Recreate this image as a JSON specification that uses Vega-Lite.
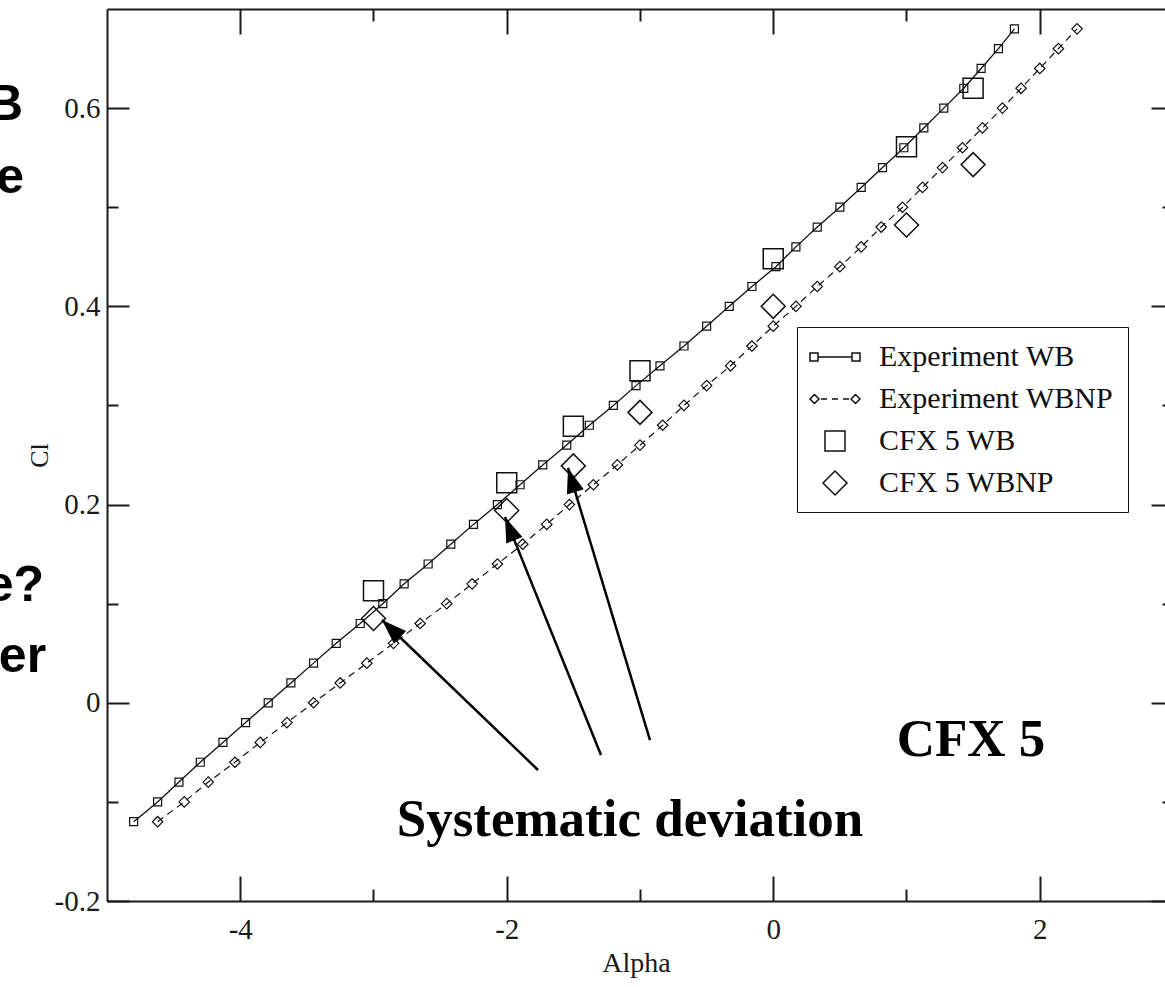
{
  "$schema": "https://vega.github.io/schema/vega-lite/v6.json",
  "width": 1058,
  "height": 892,
  "autosize": {"type": "none"},
  "padding": {"left": 107, "top": 9, "right": 0, "bottom": 86},
  "background": "white",
  "datasets": {
    "exp": [
      {"series": "Experiment WB", "alpha": -4.80, "cl": -0.12},
      {"series": "Experiment WB", "alpha": -4.62, "cl": -0.10},
      {"series": "Experiment WB", "alpha": -4.46, "cl": -0.08},
      {"series": "Experiment WB", "alpha": -4.30, "cl": -0.06},
      {"series": "Experiment WB", "alpha": -4.13, "cl": -0.04},
      {"series": "Experiment WB", "alpha": -3.96, "cl": -0.02},
      {"series": "Experiment WB", "alpha": -3.79, "cl": 0.00},
      {"series": "Experiment WB", "alpha": -3.62, "cl": 0.02},
      {"series": "Experiment WB", "alpha": -3.45, "cl": 0.04},
      {"series": "Experiment WB", "alpha": -3.28, "cl": 0.06},
      {"series": "Experiment WB", "alpha": -3.10, "cl": 0.08},
      {"series": "Experiment WB", "alpha": -2.93, "cl": 0.10},
      {"series": "Experiment WB", "alpha": -2.77, "cl": 0.12},
      {"series": "Experiment WB", "alpha": -2.59, "cl": 0.14},
      {"series": "Experiment WB", "alpha": -2.42, "cl": 0.16},
      {"series": "Experiment WB", "alpha": -2.25, "cl": 0.18},
      {"series": "Experiment WB", "alpha": -2.07, "cl": 0.20},
      {"series": "Experiment WB", "alpha": -1.90, "cl": 0.22},
      {"series": "Experiment WB", "alpha": -1.73, "cl": 0.24},
      {"series": "Experiment WB", "alpha": -1.55, "cl": 0.26},
      {"series": "Experiment WB", "alpha": -1.38, "cl": 0.28},
      {"series": "Experiment WB", "alpha": -1.20, "cl": 0.30},
      {"series": "Experiment WB", "alpha": -1.03, "cl": 0.32},
      {"series": "Experiment WB", "alpha": -0.85, "cl": 0.34},
      {"series": "Experiment WB", "alpha": -0.67, "cl": 0.36},
      {"series": "Experiment WB", "alpha": -0.50, "cl": 0.38},
      {"series": "Experiment WB", "alpha": -0.33, "cl": 0.40},
      {"series": "Experiment WB", "alpha": -0.16, "cl": 0.42},
      {"series": "Experiment WB", "alpha": 0.02, "cl": 0.44},
      {"series": "Experiment WB", "alpha": 0.17, "cl": 0.46},
      {"series": "Experiment WB", "alpha": 0.33, "cl": 0.48},
      {"series": "Experiment WB", "alpha": 0.50, "cl": 0.50},
      {"series": "Experiment WB", "alpha": 0.66, "cl": 0.52},
      {"series": "Experiment WB", "alpha": 0.82, "cl": 0.54},
      {"series": "Experiment WB", "alpha": 0.98, "cl": 0.56},
      {"series": "Experiment WB", "alpha": 1.13, "cl": 0.58},
      {"series": "Experiment WB", "alpha": 1.28, "cl": 0.60},
      {"series": "Experiment WB", "alpha": 1.43, "cl": 0.62},
      {"series": "Experiment WB", "alpha": 1.56, "cl": 0.64},
      {"series": "Experiment WB", "alpha": 1.69, "cl": 0.66},
      {"series": "Experiment WB", "alpha": 1.81, "cl": 0.68},
      {"series": "Experiment WBNP", "alpha": -4.62, "cl": -0.12},
      {"series": "Experiment WBNP", "alpha": -4.42, "cl": -0.10},
      {"series": "Experiment WBNP", "alpha": -4.24, "cl": -0.08},
      {"series": "Experiment WBNP", "alpha": -4.04, "cl": -0.06},
      {"series": "Experiment WBNP", "alpha": -3.85, "cl": -0.04},
      {"series": "Experiment WBNP", "alpha": -3.65, "cl": -0.02},
      {"series": "Experiment WBNP", "alpha": -3.45, "cl": 0.00},
      {"series": "Experiment WBNP", "alpha": -3.25, "cl": 0.02},
      {"series": "Experiment WBNP", "alpha": -3.05, "cl": 0.04},
      {"series": "Experiment WBNP", "alpha": -2.85, "cl": 0.06},
      {"series": "Experiment WBNP", "alpha": -2.65, "cl": 0.08},
      {"series": "Experiment WBNP", "alpha": -2.45, "cl": 0.10},
      {"series": "Experiment WBNP", "alpha": -2.26, "cl": 0.12},
      {"series": "Experiment WBNP", "alpha": -2.07, "cl": 0.14},
      {"series": "Experiment WBNP", "alpha": -1.88, "cl": 0.16},
      {"series": "Experiment WBNP", "alpha": -1.70, "cl": 0.18},
      {"series": "Experiment WBNP", "alpha": -1.53, "cl": 0.20},
      {"series": "Experiment WBNP", "alpha": -1.35, "cl": 0.22},
      {"series": "Experiment WBNP", "alpha": -1.17, "cl": 0.24},
      {"series": "Experiment WBNP", "alpha": -1.00, "cl": 0.26},
      {"series": "Experiment WBNP", "alpha": -0.83, "cl": 0.28},
      {"series": "Experiment WBNP", "alpha": -0.67, "cl": 0.30},
      {"series": "Experiment WBNP", "alpha": -0.50, "cl": 0.32},
      {"series": "Experiment WBNP", "alpha": -0.32, "cl": 0.34},
      {"series": "Experiment WBNP", "alpha": -0.16, "cl": 0.36},
      {"series": "Experiment WBNP", "alpha": 0.00, "cl": 0.38},
      {"series": "Experiment WBNP", "alpha": 0.17, "cl": 0.40},
      {"series": "Experiment WBNP", "alpha": 0.33, "cl": 0.42},
      {"series": "Experiment WBNP", "alpha": 0.50, "cl": 0.44},
      {"series": "Experiment WBNP", "alpha": 0.66, "cl": 0.46},
      {"series": "Experiment WBNP", "alpha": 0.81, "cl": 0.48},
      {"series": "Experiment WBNP", "alpha": 0.97, "cl": 0.50},
      {"series": "Experiment WBNP", "alpha": 1.12, "cl": 0.52},
      {"series": "Experiment WBNP", "alpha": 1.27, "cl": 0.54},
      {"series": "Experiment WBNP", "alpha": 1.42, "cl": 0.56},
      {"series": "Experiment WBNP", "alpha": 1.57, "cl": 0.58},
      {"series": "Experiment WBNP", "alpha": 1.72, "cl": 0.60},
      {"series": "Experiment WBNP", "alpha": 1.86, "cl": 0.62},
      {"series": "Experiment WBNP", "alpha": 2.00, "cl": 0.64},
      {"series": "Experiment WBNP", "alpha": 2.14, "cl": 0.66},
      {"series": "Experiment WBNP", "alpha": 2.28, "cl": 0.68}
    ],
    "cfx": [
      {"series": "CFX 5 WB", "alpha": -3.0, "cl": 0.113},
      {"series": "CFX 5 WB", "alpha": -2.0, "cl": 0.222},
      {"series": "CFX 5 WB", "alpha": -1.5, "cl": 0.279},
      {"series": "CFX 5 WB", "alpha": -1.0, "cl": 0.335},
      {"series": "CFX 5 WB", "alpha": 0.0, "cl": 0.448},
      {"series": "CFX 5 WB", "alpha": 1.0, "cl": 0.561},
      {"series": "CFX 5 WB", "alpha": 1.5, "cl": 0.620},
      {"series": "CFX 5 WBNP", "alpha": -3.0, "cl": 0.085},
      {"series": "CFX 5 WBNP", "alpha": -2.0, "cl": 0.194},
      {"series": "CFX 5 WBNP", "alpha": -1.5, "cl": 0.239},
      {"series": "CFX 5 WBNP", "alpha": -1.0, "cl": 0.293},
      {"series": "CFX 5 WBNP", "alpha": 0.0, "cl": 0.400},
      {"series": "CFX 5 WBNP", "alpha": 1.0, "cl": 0.482},
      {"series": "CFX 5 WBNP", "alpha": 1.5, "cl": 0.543}
    ],
    "arrows": [
      {"alpha0": -1.7655, "cl0": -0.0678, "alpha1": -2.936, "cl1": 0.0835, "angle": 314},
      {"alpha0": -1.2927, "cl0": -0.0527, "alpha1": -2.0131, "cl1": 0.1874, "angle": 338},
      {"alpha0": -0.925, "cl0": -0.0376, "alpha1": -1.5403, "cl1": 0.2369, "angle": 343}
    ],
    "notes": [
      {"text": "Systematic deviation", "alpha": -1.075, "cl": -0.118},
      {"text": "CFX 5", "alpha": 1.484, "cl": -0.0376}
    ],
    "cuts": [
      {"text": "B", "alpha": -5.630, "cl": 0.588},
      {"text": "e", "alpha": -5.622, "cl": 0.5143},
      {"text": "e?", "alpha": -5.472, "cl": 0.1027},
      {"text": "er", "alpha": -5.457, "cl": 0.031}
    ]
  },
  "resolve": {"axis": {"x": "independent", "y": "independent"}},
  "layer": [
    {
      "data": {"name": "exp"},
      "transform": [{"filter": "datum.series === 'Experiment WB'"}],
      "mark": {"type": "line", "color": "#111", "strokeWidth": 1.3},
      "encoding": {
        "x": {"field": "alpha", "type": "quantitative", "scale": {"domain": [-5, 2.94], "nice": false, "zero": false},
          "axis": {"orient": "bottom", "values": [-4, -2, 0, 2], "ticks": false, "domain": true, "labelPadding": 14,
            "labelExpr": "datum.value < 0 ? '-' + abs(datum.value) : '' + datum.value", "title": "Alpha", "titlePadding": 5}},
        "y": {"field": "cl", "type": "quantitative", "scale": {"domain": [-0.2, 0.7], "nice": false, "zero": false},
          "axis": {"orient": "left", "values": [-0.2, 0, 0.2, 0.4, 0.6], "ticks": false, "domain": true, "labelPadding": 7,
            "labelExpr": "datum.value == 0 ? '0' : (datum.value < 0 ? '-' : '') + format(abs(datum.value), '.1f')", "title": "Cl", "titlePadding": 2, "titleFontSize": 26}}
      }
    },
    {
      "data": {"name": "exp"},
      "transform": [{"filter": "datum.series === 'Experiment WBNP'"}],
      "mark": {"type": "line", "color": "#111", "strokeWidth": 1.2, "strokeDash": [7, 5]},
      "encoding": {
        "x": {"field": "alpha", "type": "quantitative",
          "axis": {"orient": "bottom", "values": [-4, -2, 0, 2], "tickSize": -25, "labels": false, "domain": false, "title": null}},
        "y": {"field": "cl", "type": "quantitative",
          "axis": {"orient": "left", "values": [-0.2, 0, 0.2, 0.4, 0.6], "tickSize": -22, "labels": false, "domain": false, "title": null}}
      }
    },
    {
      "data": {"name": "exp"},
      "transform": [{"filter": "datum.series === 'Experiment WB'"}],
      "mark": {"type": "point", "shape": "square", "size": 64, "filled": false, "color": "#111", "strokeWidth": 1.2, "opacity": 1},
      "encoding": {
        "x": {"field": "alpha", "type": "quantitative",
          "axis": {"orient": "bottom", "values": [-3, -1, 1], "tickSize": -12, "labels": false, "domain": false, "title": null}},
        "y": {"field": "cl", "type": "quantitative",
          "axis": {"orient": "left", "values": [-0.1, 0.1, 0.3, 0.5], "tickSize": -11, "labels": false, "domain": false, "title": null}}
      }
    },
    {
      "data": {"name": "exp"},
      "transform": [{"filter": "datum.series === 'Experiment WBNP'"}],
      "mark": {"type": "point", "shape": "diamond", "size": 110, "filled": false, "color": "#111", "strokeWidth": 1.2, "opacity": 1},
      "encoding": {
        "x": {"field": "alpha", "type": "quantitative", "axis": null},
        "y": {"field": "cl", "type": "quantitative", "axis": null}
      }
    },
    {
      "data": {"name": "cfx"},
      "mark": {"type": "point", "filled": false, "color": "#111", "strokeWidth": 1.5, "opacity": 1, "size": 900},
      "encoding": {
        "x": {"field": "alpha", "type": "quantitative",
          "axis": {"orient": "top", "values": [-4, -2, 0, 2], "tickSize": -25, "labels": false, "domain": true, "title": null}},
        "y": {"field": "cl", "type": "quantitative",
          "axis": {"orient": "right", "values": [-0.2, 0, 0.2, 0.4, 0.6], "tickSize": -22, "labels": false, "domain": true, "title": null, "offset": 8}},
        "shape": {"field": "series", "type": "nominal",
          "scale": {"domain": ["Experiment WB", "Experiment WBNP", "CFX 5 WB", "CFX 5 WBNP"],
            "range": [
              "M-1.133,0H1.133M-1.667,-0.267h0.533v0.533h-0.533zM1.133,-0.267h0.533v0.533h-0.533z",
              "M-1.667,0L-1.367,-0.3L-1.067,0L-1.367,0.3zM1.067,0L1.367,-0.3L1.667,0L1.367,0.3zM-0.933,0H-0.533M-0.2,0H0.2M0.533,0H0.933",
              "M-0.667,-0.667h1.333v1.333h-1.333z",
              "M-0.8,0L0,-0.8L0.8,0L0,0.8z"
            ]},
          "legend": {"title": null, "orient": "none", "legendX": 690, "legendY": 318,
            "strokeColor": "#111", "fillColor": "white", "padding": 14,
            "labelFont": "Liberation Serif", "labelFontSize": 30, "labelColor": "#111", "labelOffset": 28, "labelLimit": 0,
            "symbolSize": 900, "symbolOffset": 8, "rowPadding": 11, "symbolStrokeWidth": 1.5,
            "encode": {"legend": {"strokeWidth": {"value": 2}}}}
        }
      }
    },
    {
      "data": {"name": "arrows"},
      "mark": {"type": "rule", "color": "#000", "strokeWidth": 2.5},
      "encoding": {
        "x": {"field": "alpha0", "type": "quantitative",
          "axis": {"orient": "top", "values": [-3, -1, 1], "tickSize": -12, "labels": false, "domain": false, "title": null}},
        "y": {"field": "cl0", "type": "quantitative",
          "axis": {"orient": "right", "values": [-0.1, 0.1, 0.3, 0.5], "tickSize": -11, "labels": false, "domain": false, "title": null, "offset": 8}},
        "x2": {"field": "alpha1"},
        "y2": {"field": "cl1"}
      }
    },
    {
      "data": {"name": "arrows"},
      "mark": {"type": "point", "filled": true, "color": "#000", "opacity": 1, "shape": "M0,0L0.7,2L-0.7,2Z", "size": 625, "strokeWidth": 0},
      "encoding": {
        "x": {"field": "alpha1", "type": "quantitative", "axis": null},
        "y": {"field": "cl1", "type": "quantitative", "axis": null},
        "angle": {"field": "angle", "type": "quantitative", "scale": null}
      }
    },
    {
      "data": {"name": "notes"},
      "mark": {"type": "text", "font": "Liberation Serif", "fontWeight": "bold", "fontSize": 53, "align": "center", "baseline": "middle", "color": "#000"},
      "encoding": {
        "x": {"field": "alpha", "type": "quantitative", "axis": null},
        "y": {"field": "cl", "type": "quantitative", "axis": null},
        "text": {"field": "text"}
      }
    },
    {
      "data": {"name": "cuts"},
      "mark": {"type": "text", "font": "Liberation Sans", "fontWeight": "bold", "fontSize": 50, "align": "right", "baseline": "alphabetic", "color": "#000"},
      "encoding": {
        "x": {"field": "alpha", "type": "quantitative", "axis": null},
        "y": {"field": "cl", "type": "quantitative", "axis": null},
        "text": {"field": "text"}
      }
    }
  ],
  "config": {
    "view": {"stroke": null},
    "axis": {
      "grid": false,
      "domainColor": "#1a1a1a", "domainWidth": 2,
      "tickColor": "#1a1a1a", "tickWidth": 2,
      "labelFont": "Liberation Serif", "labelFontSize": 29, "labelColor": "#1a1a1a",
      "titleFont": "Liberation Serif", "titleFontSize": 28, "titleFontWeight": "normal", "titleColor": "#1a1a1a"
    }
  }
}
